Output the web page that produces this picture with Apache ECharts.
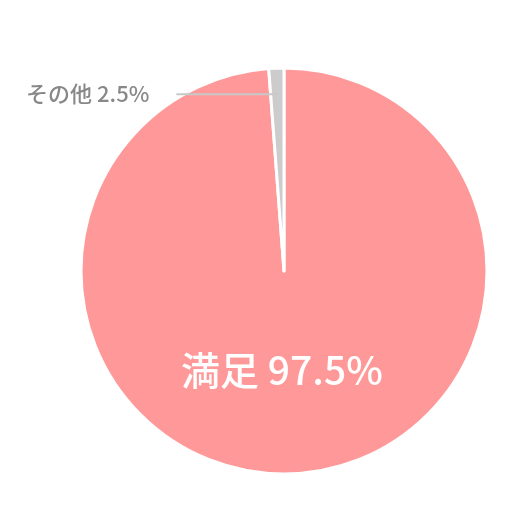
<!DOCTYPE html>
<html>
<head>
<meta charset="utf-8">
<script src="https://cdn.jsdelivr.net/npm/echarts@6/dist/echarts.min.js"></script>
<style>
html,body{margin:0;padding:0;background:#fff;}
#chart{width:530px;height:530px;}
</style>
</head>
<body>
<div id="chart"></div>
<script>
// Category names
const categories = ['満足', 'その他'];
// Printed percentages shown in the labels
const labelPercents = [97.5, 2.5];
// Slice sizes as drawn in the picture
const sliceValues = [98.8, 1.2];
const sliceColors = ['#ff9999', '#cccccc'];

const chart = echarts.init(document.getElementById('chart'));
const FONT = '"Noto Sans CJK JP", "Noto Sans", sans-serif';

const mainData = categories.map((name, i) => ({
  name: name,
  value: sliceValues[i],
  itemStyle: { color: sliceColors[i] },
  label: i === 0 ? {
    show: true,
    position: 'inside',
    offset: [-6, -5],
    color: '#ffffff',
    fontSize: 39,
    fontWeight: 500,
    fontFamily: FONT,
    formatter: name + ' ' + labelPercents[i] + '%'
  } : { show: false }
}));

const overlayData = categories.map((name, i) => ({
  name: name,
  value: sliceValues[i],
  itemStyle: { color: 'rgba(0,0,0,0)', borderWidth: 0 },
  label: i === 1 ? {
    show: true,
    position: 'outside',
    color: '#888888',
    fontSize: 22,
    fontWeight: 500,
    fontFamily: FONT,
    distanceToLabelLine: 27,
    formatter: name + ' ' + labelPercents[i] + '%'
  } : { show: false },
  labelLine: i === 1 ? {
    show: true,
    length: 1,
    length2: 101,
    lineStyle: { color: '#c8c8c8', width: 2 }
  } : { show: false }
}));

chart.setOption({
  animation: false,
  backgroundColor: '#ffffff',
  series: [
    {
      type: 'pie',
      center: [284, 271],
      radius: [0, 203],
      startAngle: 90,
      clockwise: true,
      avoidLabelOverlap: false,
      itemStyle: { borderColor: '#ffffff', borderWidth: 3 },
      labelLine: { show: false },
      data: mainData,
      z: 2
    },
    {
      type: 'pie',
      center: [284, 271],
      radius: [0, 176],
      startAngle: 90,
      clockwise: true,
      silent: true,
      avoidLabelOverlap: false,
      data: overlayData,
      z: 3
    }
  ]
});
</script>
</body>
</html>
